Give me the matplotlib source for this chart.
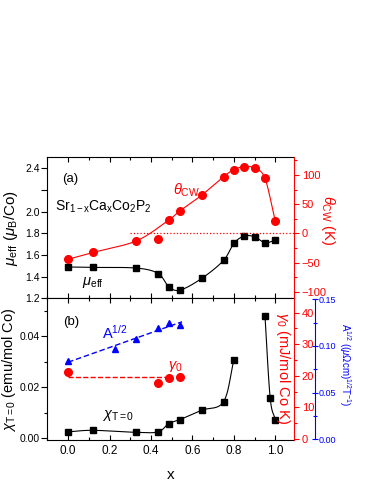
import numpy as np
import matplotlib.pyplot as plt
from matplotlib.ticker import MultipleLocator, FixedLocator, FixedFormatter, FormatStrFormatter

plt.rcParams['font.family'] = ['Liberation Sans', 'DejaVu Sans']
plt.rcParams['mathtext.fontset'] = 'custom'
plt.rcParams['mathtext.rm'] = 'Liberation Sans'
plt.rcParams['mathtext.it'] = 'Liberation Sans:italic'
plt.rcParams['mathtext.bf'] = 'Liberation Sans:bold'
plt.rcParams['axes.linewidth'] = 0.8

# panel (a)
x_a = [0.0, 0.12, 0.33, 0.435, 0.485, 0.54, 0.645, 0.75, 0.80, 0.85, 0.90, 0.95, 1.0]
mu_eff = [1.49, 1.486, 1.48, 1.43, 1.31, 1.277, 1.385, 1.55, 1.708, 1.775, 1.768, 1.713, 1.738]
theta_cw = [-44, -32.5, -12.6, -10, 22.7, 38.6, 65.5, 96.8, 109, 114, 111.6, 94, 20.5]

# panel (b)
x_chi = [0.0, 0.12, 0.33, 0.435, 0.485, 0.54, 0.645, 0.75, 0.80]
chi_T0 = [0.0025, 0.0031, 0.0023, 0.0025, 0.0057, 0.0073, 0.011, 0.0143, 0.0307]
x_chi_hi = [0.95, 0.975, 1.0]
chi_T0_hi = [0.0478, 0.0159, 0.0072]
x_A = [0.0, 0.226, 0.33, 0.435, 0.485, 0.54]
A_half = [0.0843, 0.0967, 0.1075, 0.119, 0.125, 0.122]
x_g = [0.0, 0.435, 0.485, 0.54]
gamma0 = [21.1, 17.9, 19.3, 19.8]

mu_ticks = [1.2, 1.4, 1.6, 1.8, 2.0, 2.2, 2.4]
mu_ticklabels = ["1.2", "1.4", "1.6", "1.8", "2.0", "", "2.4"]

RED = '#ff0000'
BLUE = '#0000ff'


def guide(x, y, n=25):
    # smooth guide-to-the-eye curve through the measured points
    x = np.asarray(x, float)
    y = np.asarray(y, float)
    px = np.concatenate([[2 * x[0] - x[1]], x, [2 * x[-1] - x[-2]]])
    py = np.concatenate([[2 * y[0] - y[1]], y, [2 * y[-1] - y[-2]]])
    t = np.linspace(0, 1, n)
    xs, ys = [], []
    for i in range(1, len(px) - 2):
        for p, out in ((px, xs), (py, ys)):
            p0, p1, p2, p3 = p[i - 1], p[i], p[i + 1], p[i + 2]
            out.append(0.5 * (2 * p1 + (-p0 + p2) * t
                              + (2 * p0 - 5 * p1 + 4 * p2 - p3) * t ** 2
                              + (-p0 + 3 * p1 - 3 * p2 + p3) * t ** 3))
    return np.concatenate(xs), np.concatenate(ys)


fig = plt.figure(figsize=(3.74, 4.84), dpi=100)
ax1 = fig.add_axes([0.1265, 0.3833, 0.6596, 0.2917])
ax2 = fig.add_axes([0.1265, 0.0909, 0.6596, 0.2924])
ax1r = ax1.twinx()
ax2r = ax2.twinx()
ax2b = ax2.twinx()

# ---- (a)
gx, gy = guide(x_a, mu_eff)
ax1.plot(gx, gy, color='k', lw=0.8)
ax1.plot(x_a, mu_eff, 's', color='k', ms=4)
keep = [i for i in range(len(x_a)) if i != 3]
gx, gy = guide([x_a[i] for i in keep], [theta_cw[i] for i in keep])
ax1r.plot(gx, gy, color=RED, lw=0.8)
ax1r.plot(x_a, theta_cw, 'o', color=RED, ms=5.5)
ax1r.hlines(0, 0.30, 1.1, colors=RED, linestyles=':', lw=0.9)

ax1.set_xlim(-0.1, 1.09)
ax1.set_ylim(1.2, 2.5)
ax1r.set_ylim(-111, 130)
ax1.yaxis.set_major_locator(FixedLocator(mu_ticks))
ax1.yaxis.set_major_formatter(FixedFormatter(mu_ticklabels))
ax1r.yaxis.set_major_locator(MultipleLocator(50))
ax1r.yaxis.set_minor_locator(MultipleLocator(25))

ax1.set_ylabel(r'$\mu_{\mathrm{eff}}$ ($\mu_{\mathrm{B}}$/Co)', fontsize=11)
ax1.yaxis.set_label_coords(-0.11, 0.5)
ax1r.set_ylabel(r'$\theta_{\mathrm{CW}}$ (K)', fontsize=10.5, color=RED, rotation=270)
ax1r.yaxis.set_label_coords(1.174, 0.556)

ax1.text(0.06, 0.846, '(a)', transform=ax1.transAxes, fontsize=9.5, va='center')
ax1.text(0.031, 0.65, r'$\mathrm{Sr_{1-x}Ca_xCo_2P_2}$', transform=ax1.transAxes,
         fontsize=10, va='center')
ax1.text(0.51, 0.768, r'$\theta_{\mathrm{CW}}$', transform=ax1.transAxes,
         fontsize=10.5, va='center', color=RED)
ax1.text(0.141, 0.11, r'$\mu_{\mathrm{eff}}$', transform=ax1.transAxes,
         fontsize=10.5, va='center')

# ---- (b)
gx, gy = guide(x_chi, chi_T0)
ax2.plot(gx, gy, color='k', lw=0.8)
gx, gy = guide(x_chi_hi, chi_T0_hi)
ax2.plot(gx, gy, color='k', lw=0.8)
ax2.plot(x_chi + x_chi_hi, chi_T0 + chi_T0_hi, 's', color='k', ms=4)

fit = np.polyfit(x_A, A_half, 1)
xf = np.array([x_A[0], 0.55])
ax2b.plot(xf, np.polyval(fit, xf), '--', color=BLUE, lw=1.0, dashes=(4, 2))
ax2b.plot(x_A, A_half, '^', color=BLUE, ms=5)
ax2r.hlines(np.mean(gamma0), x_g[0], 0.49, colors=RED, linestyles='--', lw=1.0)
ax2r.plot(x_g, gamma0, 'o', color=RED, ms=5.5)

ax2.set_xlim(-0.1, 1.09)
ax2.set_ylim(-0.0007, 0.0548)
ax2r.set_ylim(-0.3, 44.5)
ax2b.set_ylim(-0.001, 0.151)
ax2.yaxis.set_major_locator(MultipleLocator(0.02))
ax2.yaxis.set_minor_locator(MultipleLocator(0.01))
ax2.yaxis.set_major_formatter(FormatStrFormatter('%.2f'))
ax2r.yaxis.set_major_locator(MultipleLocator(10))
ax2r.yaxis.set_minor_locator(MultipleLocator(5))
ax2b.yaxis.set_major_locator(MultipleLocator(0.05))
ax2b.yaxis.set_minor_locator(MultipleLocator(0.025))
ax2b.yaxis.set_major_formatter(FormatStrFormatter('%.2f'))

ax2.set_xlabel('x', fontsize=11, labelpad=8)
ax2.set_ylabel(r'$\chi_{\mathrm{T=0}}$ (emu/mol Co)', fontsize=10.5)
ax2.yaxis.set_label_coords(-0.12, 0.5)
ax2r.set_ylabel(r'$\gamma_0$ (mJ/mol Co K)', fontsize=10.5, color=RED, rotation=270)
ax2r.yaxis.set_label_coords(0.99, 0.51)
ax2b.set_ylabel(r'A$^{1/2}$ (($\mu\Omega$cm)$^{1/2}$T$^{-1}$)', fontsize=7,
                color=BLUE, rotation=270)
ax2b.yaxis.set_label_coords(1.238, 0.53)

ax2.text(0.064, 0.834, '(b)', transform=ax2.transAxes, fontsize=9.5, va='center')
ax2.text(0.222, 0.756, r'A$^{1/2}$', transform=ax2.transAxes, fontsize=10.5,
         va='center', color=BLUE)
ax2.text(0.49, 0.516, r'$\gamma_0$', transform=ax2.transAxes, fontsize=10.5,
         va='center', color=RED)
ax2.text(0.222, 0.17, r'$\chi_{\mathrm{T=0}}$', transform=ax2.transAxes, fontsize=10.5,
         va='center')

# ---- axes styling
for ax in (ax1, ax2):
    ax.xaxis.set_major_locator(MultipleLocator(0.2))
    ax.xaxis.set_minor_locator(MultipleLocator(0.1))
    ax.xaxis.set_major_formatter(FormatStrFormatter('%.1f'))
    ax.tick_params(axis='x', which='major', direction='in', top=True, bottom=True,
                   length=3.5, width=0.8, labelsize=8.5)
    ax.tick_params(axis='x', which='minor', direction='in', top=True, bottom=True,
                   length=2.5, width=0.8)
    ax.tick_params(axis='y', which='major', direction='out', length=4, width=0.8,
                   labelsize=7.5, pad=1.5)
    ax.tick_params(axis='y', which='minor', direction='out', length=2.5, width=0.8)
    ax.spines['right'].set_visible(False)
ax1.tick_params(axis='x', labelbottom=False)

for ax in (ax1r, ax2r):
    ax.spines['right'].set_color(RED)
    for s in ('left', 'top', 'bottom'):
        ax.spines[s].set_visible(False)
    ax.tick_params(axis='y', which='major', direction='out', length=3.5, width=0.8,
                   colors=RED, labelsize=8, pad=2)
    ax.tick_params(axis='y', which='minor', direction='out', length=2, width=0.8,
                   colors=RED)

ax2b.spines['right'].set_position(('outward', 15))
ax2b.spines['right'].set_color(BLUE)
ax2b.spines['right'].set_bounds(0, 0.15)
for s in ('left', 'top', 'bottom'):
    ax2b.spines[s].set_visible(False)
ax2b.tick_params(axis='y', which='major', direction='inout', length=4, width=0.8,
                 colors=BLUE, labelsize=6.5, pad=0.5)
ax2b.tick_params(axis='y', which='minor', direction='inout', length=2.5, width=0.8,
                 colors=BLUE)

fig.savefig('out.png', dpi=100)
